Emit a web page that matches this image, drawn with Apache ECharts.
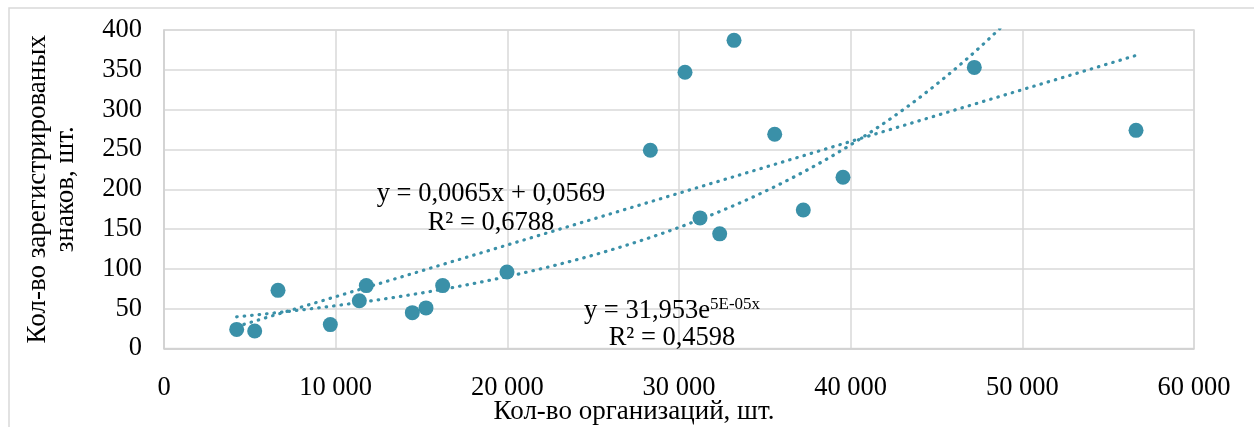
<!DOCTYPE html>
<html>
<head>
<meta charset="utf-8">
<script src="https://cdn.jsdelivr.net/npm/echarts@6/dist/echarts.min.js"></script>
<style>
  html, body { margin: 0; padding: 0; background: #fff; }
  #main { width: 1254px; height: 427px; }
</style>
</head>
<body>
<div id="main"></div>
<script>
// исходные точки: кол-во организаций / кол-во знаков
var orgCount = [4234, 5283, 6641, 9689, 11378, 11786, 14466, 15262, 16233, 19980,
                28330, 30350, 33205, 35575, 31223, 32370, 37240, 39553, 47202, 56623];
var signCount = [24, 22, 73, 30, 60, 79, 45, 51, 79, 96,
                 249, 347, 387, 269, 164, 144, 174, 215, 353, 274];

var xTicks = [0, 10000, 20000, 30000, 40000, 50000, 60000];
var yTicks = [0, 50, 100, 150, 200, 250, 300, 350, 400];

// коэффициенты линий тренда (как в подписи Excel)
var linCoef = [0.0065, 0.0569];
var expCoef = [31.953, 0.000052];

var linLabel = ['y = 0,0065x + 0,0569', 'R² = 0,6788'];
var expLabel = ['y = 31,953e', '5E-05x', 'R² = 0,4598'];

var COLOR = '#3a90a8';
var FONT = '"Liberation Serif", "Times New Roman", serif';
var FS = 26.5;

var pts = orgCount.map(function (x, i) { return [x, signCount[i]]; });
var xMin = Math.min.apply(null, orgCount);
var xMax = Math.max.apply(null, orgCount);

var linLine = [[xMin, linCoef[0] * xMin + linCoef[1]], [xMax, linCoef[0] * xMax + linCoef[1]]];
var expLine = [];
for (var k = 0; k <= 80; k++) {
  var xv = xMin + (xMax - xMin) * k / 80;
  expLine.push([xv, expCoef[0] * Math.exp(expCoef[1] * xv)]);
}

var dotted = { color: COLOR, width: 3.2, type: [0.5, 7], cap: 'round' };

function txt(x, y, s) {
  return { type: 'text', x: x, y: y, z: 10, silent: true,
           style: { text: s, align: 'center', verticalAlign: 'middle', font: FS + 'px ' + FONT, fill: '#000' } };
}

var option = {
  animation: false,
  textStyle: { fontFamily: FONT },
  grid: { left: 164, right: 60, top: 30, bottom: 78.5, outerBoundsMode: 'none',
          show: true, borderColor: '#d9d9d9', borderWidth: 1.5 },
  xAxis: {
    type: 'value', min: 0, max: 60000, interval: 10000,
    name: 'Кол-во организаций, шт.',
    nameLocation: 'middle', nameGap: 50, nameMoveOverlap: false,
    nameTextStyle: { fontFamily: FONT, fontSize: 27, color: '#000', padding: [0, 90, 0, 0] },
    axisLine: { show: true, lineStyle: { color: '#d0d0d0', width: 1.5 } },
    axisTick: { show: false },
    splitLine: { lineStyle: { color: '#d9d9d9', width: 1.5 } },
    axisLabel: {
      fontFamily: FONT, fontSize: FS, color: '#000', margin: 26,
      formatter: function (v) { return v === 0 ? '0' : String(v).replace(/(\d)(?=(\d{3})+$)/g, '$1 '); }
    }
  },
  yAxis: {
    type: 'value', min: 0, max: 400, interval: 50,
    name: 'Кол-во зарегистрированых\nзнаков, шт.',
    nameLocation: 'middle', nameGap: 84, nameRotate: 90, nameMoveOverlap: false,
    nameTextStyle: { fontFamily: FONT, fontSize: 27, color: '#000', lineHeight: 28 },
    axisLine: { show: true, lineStyle: { color: '#d0d0d0', width: 1.5 } },
    axisTick: { show: false },
    splitLine: { lineStyle: { color: '#d9d9d9', width: 1.5 } },
    axisLabel: { fontFamily: FONT, fontSize: FS, color: '#000', margin: 22 }
  },
  graphic: [
    { type: 'rect', silent: true, shape: { x: 9, y: 8, width: 1300, height: 500 },
      style: { fill: 'none', stroke: '#d9d9d9', lineWidth: 1.5 } },
    txt(491, 194, linLabel[0]),
    txt(491, 223, linLabel[1]),
    { type: 'text', x: 672, y: 311, z: 10, silent: true,
      style: {
        text: '{b|' + expLabel[0] + '}{s|' + expLabel[1] + '}',
        align: 'center', verticalAlign: 'middle', fill: '#000',
        rich: {
          b: { fontFamily: FONT, fontSize: FS },
          s: { fontFamily: FONT, fontSize: 17, verticalAlign: 'top', padding: [0, 0, 12, 0] }
        }
      } },
    txt(672, 338, expLabel[2])
  ],
  series: [
    { type: 'line', data: linLine, showSymbol: false, symbol: 'none', lineStyle: dotted, z: 2, silent: true },
    { type: 'line', data: expLine, showSymbol: false, symbol: 'none', lineStyle: dotted, z: 2, silent: true },
    { type: 'scatter', data: pts, symbol: 'circle', symbolSize: 15, itemStyle: { color: COLOR, opacity: 1 }, z: 3 }
  ]
};

var myChart = echarts.init(document.getElementById('main'));
myChart.setOption(option);
</script>
</body>
</html>
